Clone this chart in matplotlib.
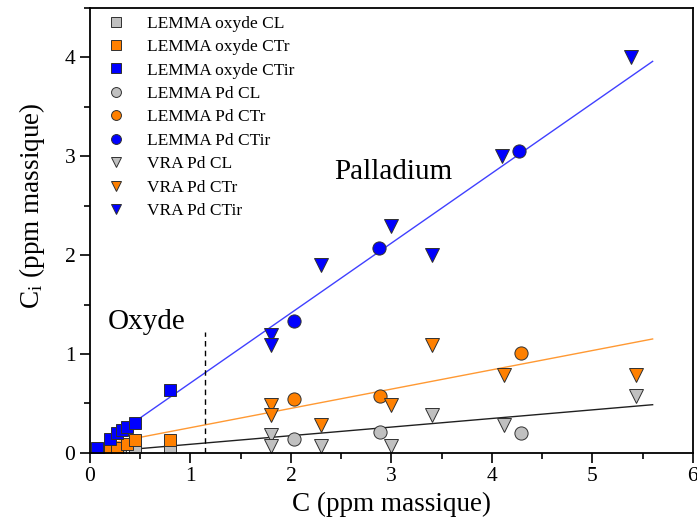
import numpy as np
import matplotlib
matplotlib.use('Agg')
import matplotlib.pyplot as plt
from matplotlib.ticker import MultipleLocator

plt.rcParams['font.family'] = ['Liberation Serif', 'DejaVu Serif']
plt.rcParams['mathtext.fontset'] = 'stix'

# LEMMA oxyde (squares)
ox_cl_x = [0.1, 0.2, 0.3, 0.45, 0.8]
ox_cl_y = [0.0, 0.01, 0.02, 0.03, 0.02]
ox_ctr_x = [0.1, 0.2, 0.27, 0.37, 0.45, 0.8]
ox_ctr_y = [0.01, 0.03, 0.05, 0.09, 0.13, 0.13]
ox_ctir_x = [0.07, 0.2, 0.27, 0.32, 0.37, 0.45, 0.8]
ox_ctir_y = [0.05, 0.14, 0.2, 0.23, 0.26, 0.3, 0.64]

# LEMMA Pd (circles)
pd_x = [2.03, 2.89, 4.29]
pd_cl_y = [0.14, 0.215, 0.2]
pd_ctr_y = [0.54, 0.58, 1.01]
pd_ctir_x = [2.03, 2.88, 4.27]
pd_ctir_y = [1.33, 2.07, 3.05]

# VRA Pd (triangles)
vra_x = [1.8, 1.8, 2.3, 3.0, 3.4, 4.12, 5.43]
vra_cl_y = [0.185, 0.07, 0.07, 0.07, 0.38, 0.28, 0.58]
vra_ctr_y = [0.48, 0.38, 0.28, 0.48, 1.09, 0.79, 0.79]
vra_ctir_x = [1.8, 1.8, 2.3, 3.0, 3.4, 4.1, 5.38]
vra_ctir_y = [1.19, 1.09, 1.9, 2.29, 2.0, 3.0, 4.0]

# fitted lines (slope, intercept)
fit_cl = (0.087, 0.0)
fit_ctr = (0.195, 0.06)
fit_ctir = (0.707, 0.0)

gray = '#c0c0c0'
orange = '#ff8000'
blue = '#0000ff'

fig = plt.figure(figsize=(6.97, 5.26), dpi=100)
ax = fig.add_axes([0.129, 0.139, 0.865, 0.846])

xl = np.array([0.05, 5.6])
ax.plot(xl, fit_cl[0] * xl + fit_cl[1], color='#202020', lw=1, zorder=1)
ax.plot(xl, fit_ctr[0] * xl + fit_ctr[1], color='#ff9933', lw=1, zorder=1)
ax.plot(xl, fit_ctir[0] * xl + fit_ctir[1], color='#4040ff', lw=1, zorder=1)

ax.plot([1.15, 1.15], [0, 1.22], ls=(0, (4, 3)), color='black', lw=1)

mk = dict(ls='none', mec='#303030', mew=0.7)
ax.plot(ox_cl_x, ox_cl_y, 's', color=gray, ms=9, label='LEMMA oxyde CL', **mk)
ax.plot(ox_ctr_x, ox_ctr_y, 's', color=orange, ms=9, label='LEMMA oxyde CTr', **mk)
ax.plot(ox_ctir_x, ox_ctir_y, 's', color=blue, ms=9, label='LEMMA oxyde CTir', **mk)
ax.plot(pd_x, pd_cl_y, 'o', color=gray, ms=9.5, label='LEMMA Pd CL', **mk)
ax.plot(pd_x, pd_ctr_y, 'o', color=orange, ms=9.5, label='LEMMA Pd CTr', **mk)
ax.plot(pd_ctir_x, pd_ctir_y, 'o', color=blue, ms=9.5, label='LEMMA Pd CTir', **mk)
ax.plot(vra_x, vra_cl_y, 'v', color=gray, ms=10, label='VRA Pd CL', **mk)
ax.plot(vra_x, vra_ctr_y, 'v', color=orange, ms=10, label='VRA Pd CTr', **mk)
ax.plot(vra_ctir_x, vra_ctir_y, 'v', color=blue, ms=10, label='VRA Pd CTir', **mk)

ax.text(0.18, 1.32, 'Oxyde', fontsize=21, va='center')
ax.text(2.43, 2.84, 'Palladium', fontsize=21, va='center')

ax.set_xlim(0, 6)
ax.set_ylim(0, 4.5)
ax.xaxis.set_major_locator(MultipleLocator(1))
ax.xaxis.set_minor_locator(MultipleLocator(0.5))
ax.yaxis.set_major_locator(MultipleLocator(1))
ax.yaxis.set_minor_locator(MultipleLocator(0.5))
ax.tick_params(which='major', direction='out', length=7, width=1.2, labelsize=15.5)
ax.tick_params(which='minor', direction='out', length=4, width=1.2)
for s in ax.spines.values():
    s.set_linewidth(1.3)

ax.set_xlabel('C (ppm massique)', fontsize=19.5)
ax.set_ylabel(r'C$_\mathregular{i}$ (ppm massique)', fontsize=19.5)
ax.yaxis.set_label_coords(-0.072, 0.555)

leg = ax.legend(loc='upper left', frameon=False, fontsize=12.5, markerscale=0.75,
                handlelength=1.2, handletextpad=1.2, labelspacing=0.42,
                bbox_to_anchor=(0.0, 1.018))

fig.savefig('out.png', dpi=100)
